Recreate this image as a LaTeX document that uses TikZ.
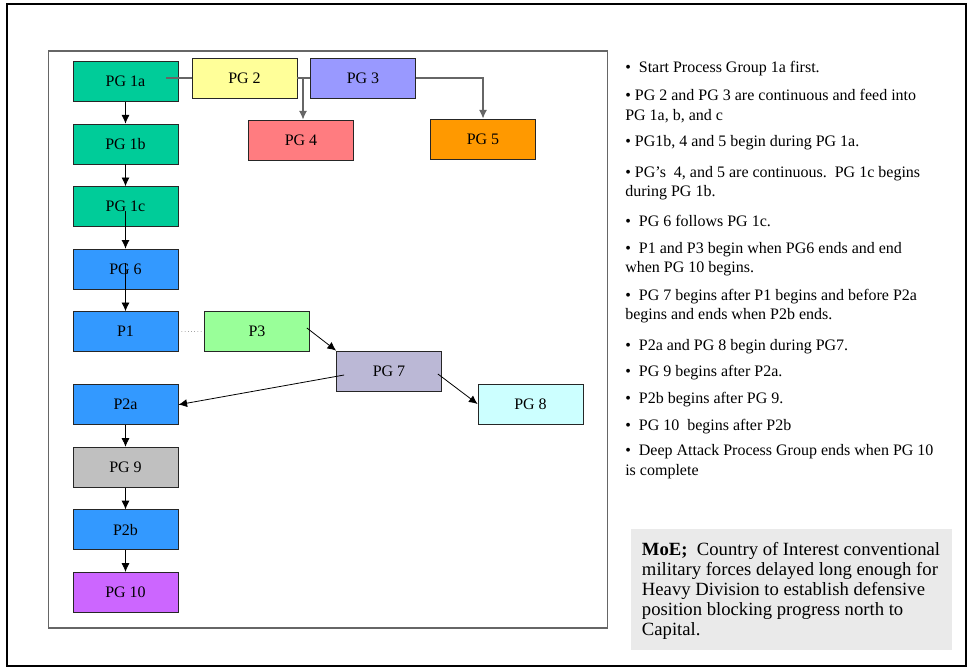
\documentclass[tikz,border=0pt]{standalone}
\usepackage{fontspec}
\setmainfont{Liberation Serif}
\usepackage{tikz}
\usetikzlibrary{arrows.meta}

\definecolor{pgteal}{HTML}{00CC99}
\definecolor{pgyellow}{HTML}{FFFF99}
\definecolor{pglilac}{HTML}{9999FF}
\definecolor{pgrose}{HTML}{FF7C80}
\definecolor{pgorange}{HTML}{FF9900}
\definecolor{pgblue}{HTML}{3399FF}
\definecolor{pgmint}{HTML}{99FF99}
\definecolor{pgslate}{HTML}{BBB8D6}
\definecolor{pgcyan}{HTML}{CCFFFF}
\definecolor{pggray}{HTML}{C0C0C0}
\definecolor{pgviolet}{HTML}{CC66FF}
\definecolor{moegray}{HTML}{EAEAEA}

\begin{document}
\begin{tikzpicture}[x=0.75pt, y=-0.75pt, >={Latex[length=6.5pt,width=6pt]}, node distance=46.9pt]
			\tikzstyle{pgbox} = [draw=black!85, line width=0.6pt, minimum width=78.75pt, minimum height=30pt, inner sep=0pt, font=\fontsize{12}{14}\selectfont]
			\tikzstyle{feed} = [draw=black!60, line width=1pt]
			\tikzstyle{flow} = [draw=black, line width=0.6pt]
			\tikzstyle{note} = [anchor=base west, inner sep=0pt, align=left, font=\fontsize{12}{14.6}\selectfont]
			\useasboundingbox (0,0) rectangle (969,667);
			\draw[line width=1.5pt] (7,4) rectangle (966,666);
			\draw[black!60, line width=1pt] (48.7,51) rectangle (607.7,628);

			% process groups, left column
			\path
			node[pgbox, fill=pgteal] (pg1a) at (125.5,81.5) {PG 1a}
			node[pgbox, fill=pgteal, below of=pg1a] (pg1b) {PG 1b}
			node[pgbox, fill=pgteal, below of=pg1b] (pg1c) {PG 1c}
			node[pgbox, fill=pgblue, below of=pg1c] (pg6) {PG 6}
			node[pgbox, fill=pgblue, below of=pg6] (p1) {P1}
			node[pgbox, fill=pgblue, below of=p1, yshift=-7.9pt] (p2a) {P2a}
			node[pgbox, fill=pggray, below of=p2a] (pg9) {PG 9}
			node[pgbox, fill=pgblue, below of=pg9] (p2b) {P2b}
			node[pgbox, fill=pgviolet, below of=p2b] (pg10) {PG 10}
			;
			% the others
			\path
			node[pgbox, fill=pgyellow] (pg2) at (244.5,78) {PG 2}
			node[pgbox, fill=pglilac] (pg3) at (363,78) {PG 3}
			node[pgbox, fill=pgrose] (pg4) at (301,140) {PG 4}
			node[pgbox, fill=pgorange] (pg5) at (483,139) {PG 5}
			node[pgbox, fill=pgmint] (p3) at (257,331) {P3}
			node[pgbox, fill=pgslate] (pg7) at (389,371) {PG 7}
			node[pgbox, fill=pgcyan] (pg8) at (530.5,404) {PG 8}
			;

			\coordinate (tap1a) at (166,78);
			\coordinate (tap4) at (303,78);
			\draw[feed] (tap1a) -- (pg2.west);
			\draw[feed] (pg2.east) -- (pg3.west);
			\draw[feed, ->] (tap4) -- (tap4 |- pg4.north);
			\draw[feed, ->] (pg3.east) -| (pg5.north);

			\path[->, flow]
			(pg1a) edge (pg1b)
			(pg1b) edge (pg1c)
			(p2a) edge (pg9)
			(pg9) edge (p2b)
			(p2b) edge (pg10)
			;
			\draw[->, flow] ([yshift=-3pt]pg1c.center) -- (pg6.north);
			\draw[->, flow] ([yshift=4.5pt]pg6.center) -- (p1.north);
			\draw[->, flow] ([shift={(-3,-3)}]p3.east) -- (pg7.north west);
			\draw[->, flow] ([shift={(8,4)}]pg7.west) -- (p2a.east);
			\draw[->, flow] ([shift={(-4,3)}]pg7.east) -- (pg8.west);
			\draw[dotted, black!85] (p1) -- (p3);

			% notes on the right
			\node[note] (n1) at (625,72.7) {•\ \ Start Process Group 1a first.};
			\node[note] (n2) at (625,120) {• PG 2 and PG 3 are continuous and feed into\\PG 1a, b, and c};
			\node[note] (n3) at (625,146.7) {• PG1b, 4 and 5 begin during PG 1a.};
			\node[note] (n4) at (625,196.7) {• PG’s\ \ 4, and 5 are continuous.\ \ PG 1c begins\\during PG 1b.};
			\node[note] (n5) at (625,226.7) {•\ \ PG 6 follows PG 1c.};
			\node[note] (n6) at (625,272.7) {•\ \ P1 and P3 begin when PG6 ends and end\\when PG 10 begins.};
			\node[note] (n7) at (625,319.5) {•\ \ PG 7 begins after P1 begins and before P2a\\begins and ends when P2b ends.};
			\node[note] (n8) at (625,350) {•\ \ P2a and PG 8 begin during PG7.};
			\node[note] (n9) at (625,376.7) {•\ \ PG 9 begins after P2a.};
			\node[note] (n10) at (625,403.3) {•\ \ P2b begins after PG 9.};
			\node[note] (n11) at (625,430) {•\ \ PG 10\ \ begins after P2b};
			\node[note] (n12) at (625,475) {•\ \ Deep Attack Process Group ends when PG 10\\is complete};

			\node[fill=moegray, anchor=north west, minimum width=240.75pt, minimum height=90.75pt, inner sep=0pt] (moe) at (631,529) {};
			\node[note, font=\fontsize{14}{15}\selectfont] (moetxt) at (641.7,635) {\textbf{MoE;}\ \ Country of Interest conventional\\military forces delayed long enough for\\Heavy Division to establish defensive\\position blocking progress north to\\Capital.};
\end{tikzpicture}
\end{document}
